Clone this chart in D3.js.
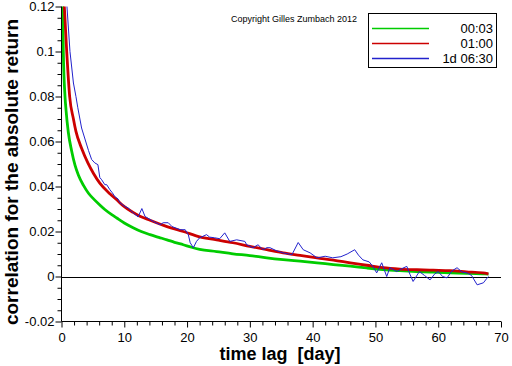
<!DOCTYPE html>
<html><head><meta charset="utf-8">
<script src="https://cdn.jsdelivr.net/npm/d3@7"></script>
<style>body{margin:0;background:#fff}svg{display:block}text{font-family:"Liberation Sans",Arial,sans-serif;white-space:pre}</style>
</head><body><svg id="c" width="512" height="366"></svg>
<script>
const seriesNames = ["00:03", "01:00", "1d 06:30"];
const seriesColors = ["#00cc00", "#cc0000", "#2222cc"];
const greenDays = [0.05,0.2,0.29,0.56,0.72,1.09,1.6,2.15,2.7,3.5,4.3,5.1,6.1,6.9,8.0,8.8,10,11.4,12.7,14.1,15.5,16.8,18,19.4,20.7,22,24.7,27.3,30,32.7,35.3,38,40.7,43.3,46,48.6,51.2,53.9,56.6,59.2,61.9,64.5,67.1,68];
const greenVals = [0.14,0.12,0.1,0.08,0.074,0.064,0.056,0.0495,0.045,0.0405,0.037,0.0345,0.0318,0.0298,0.0275,0.026,0.0238,0.0217,0.02,0.0186,0.0174,0.0163,0.0152,0.0141,0.013,0.0121,0.0111,0.0101,0.0093,0.0083,0.0075,0.0068,0.0061,0.0053,0.0046,0.0038,0.0031,0.0026,0.0022,0.0019,0.0016,0.0014,0.0012,0.0011];
const redDays = [0.2,0.45,0.83,1.3,1.9,2.3,3.2,4.2,5.1,6.1,7.7,8.8,9.8,11.4,12.5,14.1,16.8,19.4,22,24.7,27.3,30,32.7,35.3,38,40.7,43.3,46,48.6,51.2,53.9,56.6,59.2,61.9,64.5,67.1,68];
const redVals = [0.135,0.12,0.1,0.08,0.07,0.0645,0.057,0.0505,0.0458,0.0415,0.0368,0.0341,0.0315,0.0285,0.0268,0.025,0.0222,0.02,0.0176,0.0163,0.015,0.0134,0.0119,0.0105,0.0094,0.0083,0.0073,0.0061,0.005,0.0039,0.0033,0.003,0.0028,0.0026,0.0021,0.0016,0.0012];
const blueDays = [0.7,0.87,1.35,1.9,2.3,2.6,3.2,4.3,4.8,5.3,5.8,6.1,6.4,6.9,7.2,7.7,8.1,8.5,9.0,9.3,10.1,10.6,11.4,12.2,12.8,13.3,14.6,15.7,16.2,17,17.6,18.9,19.7,20.2,20.5,21,21.5,22,23.1,23.6,24.4,25.2,26,26.8,27.9,29.2,29.5,30.5,31.3,32.1,32.7,33.2,34.2,35.3,36.7,37.7,38.5,39.6,40.7,42,43.2,44.5,45.5,46.7,47.3,48,49,49.6,50.2,51,51.8,52.3,53.4,54.2,55,55.5,56,57,57.8,58.7,59.4,60,60.7,61.4,62.2,63,63.8,64.6,65.3,66.2,67.2,67.7,68];
const blueVals = [0.13,0.12,0.1,0.086,0.08,0.075,0.066,0.056,0.052,0.0505,0.0497,0.044,0.043,0.0408,0.0408,0.0386,0.0372,0.0355,0.0345,0.0328,0.0311,0.0305,0.0283,0.0265,0.0302,0.0267,0.0245,0.023,0.0239,0.0239,0.0222,0.0208,0.0208,0.0186,0.015,0.0128,0.0156,0.0172,0.0186,0.0175,0.0172,0.0168,0.0194,0.0156,0.0163,0.0156,0.0141,0.0128,0.0141,0.0119,0.0128,0.0128,0.0115,0.0105,0.0097,0.0151,0.0119,0.0105,0.0083,0.009,0.0083,0.0088,0.01,0.0119,0.0095,0.0074,0.0065,0.0045,0.0016,0.0061,0.0,0.0039,0.0022,0.0035,0.0045,0.001,-0.0022,0.0022,0.0005,-0.0015,0.001,0.0022,0.0,-0.0006,0.0025,0.0039,0.002,0.0016,0.0005,-0.0037,-0.0028,-0.001,0.0];
const xTicks = [0,10,20,30,40,50,60,70];
const yTicks = [-0.02,0,0.02,0.04,0.06,0.08,0.1,0.12];
const yTickLabels = ["-0.02","0","0.02","0.04","0.06","0.08","0.1","0.12"];
const xLabel = "time lag  [day]";
const yLabel = "correlation for the absolute return";
const copyright = "Copyright Gilles Zumbach 2012";

const svg = d3.select("#c");
const x = d3.scaleLinear().domain([0,70]).range([61.5,501]);
const y = d3.scaleLinear().domain([-0.02,0.12]).range([321.5,6.5]);

svg.append("defs").append("clipPath").attr("id","clip").append("rect")
  .attr("x",61.5).attr("y",6.5).attr("width",440).attr("height",315);

// zero line
svg.append("line").attr("x1",x(0)).attr("x2",x(70)).attr("y1",Math.round(y(0))+0.5).attr("y2",Math.round(y(0))+0.5)
  .attr("stroke","#000").attr("stroke-width",1);

const series = [
  {days:greenDays, vals:greenVals, w:2.8, curve:d3.curveMonotoneX},
  {days:redDays, vals:redVals, w:2.8, curve:d3.curveMonotoneX},
  {days:blueDays, vals:blueVals, w:1, curve:d3.curveLinear}
];
const g = svg.append("g").attr("clip-path","url(#clip)");
series.forEach((s,i)=>{
  const line = d3.line().x(d=>x(d[0])).y(d=>y(d[1])).curve(s.curve);
  g.append("path").datum(s.days.map((d,j)=>[d,s.vals[j]]))
    .attr("d",line).attr("fill","none").attr("stroke",seriesColors[i]).attr("stroke-width",s.w)
    .attr("stroke-linejoin","round");
});

// axes
const xAxis = d3.axisBottom(x).tickValues(xTicks).tickSize(6).tickFormat(d3.format("d"));
const xMinor = d3.axisBottom(x).tickValues(d3.range(0,71,2).filter(v=>v%10)).tickSize(4).tickFormat("");
const gx = svg.append("g").attr("transform","translate(0,321.5)").call(xAxis);
svg.append("g").attr("transform","translate(0,321.5)").call(xMinor).select(".domain").remove();
gx.select(".domain").attr("d","M61.5,0H501");
gx.selectAll("text").attr("font-size",13).attr("dy","0.9em").attr("fill","#000").attr("font-family","Liberation Sans, Arial, sans-serif");

const yAxis = d3.axisLeft(y).tickValues(yTicks).tickSize(6).tickFormat((d,i)=>yTickLabels[i]);
const yMinorVals = d3.range(-0.02,0.1201,0.005).map(v=>+v.toFixed(3)).filter(v=>Math.abs(Math.round(v/0.02)*0.02-v)>1e-6);
const yMinor = d3.axisLeft(y).tickValues(yMinorVals).tickSize(4).tickFormat("");
const gy = svg.append("g").attr("transform","translate(61.5,0)").call(yAxis);
svg.append("g").attr("transform","translate(61.5,0)").call(yMinor).select(".domain").remove();
gy.select(".domain").attr("d","M0,6.5V321.5");
gy.selectAll("text").attr("font-size",13).attr("fill","#000").attr("x",-7).attr("font-family","Liberation Sans, Arial, sans-serif");

// titles
svg.append("text").attr("x",280).attr("y",360).attr("text-anchor","middle")
  .attr("font-size",18).attr("font-weight","bold").text(xLabel);
svg.append("text").attr("transform","translate(18,172) rotate(-90)").attr("text-anchor","middle")
  .attr("font-size",19).attr("font-weight","bold").text(yLabel);
svg.append("text").attr("x",231).attr("y",22).attr("font-size",9).text(copyright);

// legend
const lg = svg.append("g").attr("class","legend");
lg.append("rect").attr("x",368.5).attr("y",13.5).attr("width",128).attr("height",54)
  .attr("fill","#fff").attr("stroke","#000").attr("stroke-width",1);
seriesNames.forEach((n,i)=>{
  const ly = 28.5 + i*15;
  lg.append("line").attr("x1",372).attr("x2",429).attr("y1",ly).attr("y2",ly)
    .style("stroke",seriesColors[i]).attr("stroke-width",1.3);
  lg.append("text").attr("x",493).attr("y",ly+4.5).attr("text-anchor","end").attr("font-size",13).text(n);
});
</script></body></html>
